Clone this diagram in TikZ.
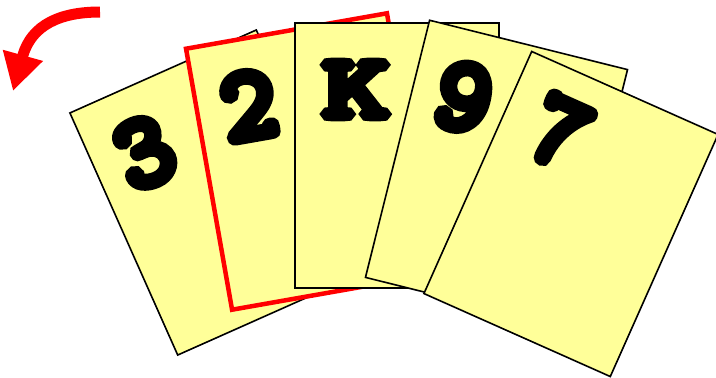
\documentclass[tikz,border=0pt]{standalone}
\usepackage{fontspec}
\newfontfamily\cardfont[FakeBold=10]{lmmono10-regular.otf}
\usetikzlibrary{calc}
\usetikzlibrary{arrows.meta}

\definecolor{cardyellow}{RGB}{255,255,153}

\begin{document}
\begin{tikzpicture}[x=1pt, y=1pt,
    card/.style={draw, line width=1.6pt, fill=cardyellow, minimum width=204pt, minimum height=265pt, inner sep=0pt},
    cardlabel/.style={font=\cardfont\fontsize{104}{104}\selectfont, inner sep=0pt}]

    % Picture frame (pixels of the original)
    \useasboundingbox (0,0) rectangle (716,-378);

    % Constants
    \pgfmathsetmacro{\lx}{-46}
    \pgfmathsetmacro{\ly}{66}

    % Rotation arrow
    \coordinate (arrowstart) at (100,-12);
    \coordinate (arrowbase) at (23,-55);
    \coordinate (arrowtip) at (13,-91);
    \draw [red, line width=11pt, -{Triangle[length=37pt, width=39pt]}]
        (arrowstart) .. controls (60,-12) and (32,-25) .. (arrowbase) -- (arrowtip);

    % Cards, from the back to the front
    \begin{scope}[shift={(217,-192.5)}, rotate=24, transform shape]
        \node [card] (three) at (0,0) {};
        \node [cardlabel] (threelabel) at (-50,\ly) {3};
    \end{scope}

    \begin{scope}[shift={(309.5,-161.5)}, rotate=10, transform shape]
        \node [card, draw=red, line width=4.5pt] (two) at (0,0) {};
        \node [cardlabel] (twolabel) at (-50,\ly) {2};
    \end{scope}

    \begin{scope}[shift={(397,-155.5)}, transform shape]
        \node [card] (king) at (0,0) {};
        % K is set wider and lower than the digits
        \node [cardlabel, xscale=1.2, yscale=0.86] (kinglabel) at (-41,\ly) {K};
    \end{scope}

    \begin{scope}[shift={(496.5,-173.5)}, rotate=-14, transform shape]
        \node [card] (nine) at (0,0) {};
        \node [cardlabel] (ninelabel) at (-50,\ly) {9};
    \end{scope}

    \begin{scope}[shift={(571,-214)}, rotate=-24, transform shape]
        \node [card] (seven) at (0,0) {};
        \node [cardlabel] (sevenlabel) at (-43,70) {7};
    \end{scope}

\end{tikzpicture}
\end{document}
